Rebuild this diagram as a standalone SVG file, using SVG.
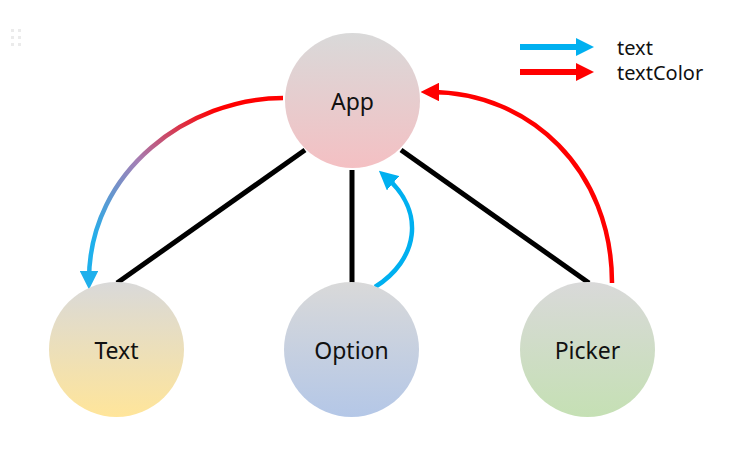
<svg xmlns="http://www.w3.org/2000/svg" width="740" height="451" viewBox="0 0 740 451">
<defs>
<linearGradient id="gApp" x1="0" y1="0" x2="0" y2="1"><stop offset="0" stop-color="#d9d9d9"/><stop offset="1" stop-color="#f4c0c3"/></linearGradient>
<linearGradient id="gText" x1="0" y1="0" x2="0" y2="1"><stop offset="0" stop-color="#d9d9d9"/><stop offset="1" stop-color="#ffe59a"/></linearGradient>
<linearGradient id="gOpt" x1="0" y1="0" x2="0" y2="1"><stop offset="0" stop-color="#d9d9d9"/><stop offset="1" stop-color="#b4c7e7"/></linearGradient>
<linearGradient id="gPick" x1="0" y1="0" x2="0" y2="1"><stop offset="0" stop-color="#d9d9d9"/><stop offset="1" stop-color="#c5e0b4"/></linearGradient>
<linearGradient id="gArc" gradientUnits="userSpaceOnUse" x1="205" y1="100" x2="92" y2="240"><stop offset="0" stop-color="#ff0000"/><stop offset="0.5" stop-color="#a47fb5"/><stop offset="1" stop-color="#1fb0ec"/></linearGradient>
<marker id="mBlue" viewBox="0 0 10 10" refX="5" refY="5" markerWidth="4.2" markerHeight="4.2" orient="auto" markerUnits="strokeWidth"><path d="M0,0 L10,5 L0,10 z" fill="#00b0f0"/></marker>
<marker id="mRed" viewBox="0 0 10 10" refX="5" refY="5" markerWidth="4.2" markerHeight="4.2" orient="auto" markerUnits="strokeWidth"><path d="M0,0 L10,5 L0,10 z" fill="#ff0000"/></marker>
<marker id="mArcBlue" viewBox="0 0 10 10" refX="5" refY="5" markerWidth="4.2" markerHeight="4.2" orient="auto" markerUnits="strokeWidth"><path d="M0,0 L10,5 L0,10 z" fill="#1fb0ec"/></marker>
</defs>
<style>
.lbl{font-family:"Noto Sans","Open Sans","Liberation Sans",sans-serif;font-size:23px;fill:#111;text-anchor:middle;dominant-baseline:central}
.leg{font-family:"Noto Sans","Open Sans","Liberation Sans",sans-serif;font-size:20px;fill:#111}
.edge{stroke:#000;stroke-width:5;fill:none}
.dot{fill:#ebebeb}
</style>
<g id="handle">
<rect class="dot" x="11" y="29" width="3" height="3"/><rect class="dot" x="18" y="29" width="3" height="3"/>
<rect class="dot" x="11" y="36" width="3" height="3"/><rect class="dot" x="18" y="36" width="3" height="3"/>
<rect class="dot" x="11" y="43" width="3" height="3"/><rect class="dot" x="18" y="43" width="3" height="3"/>
</g>
<g id="connectors">
<line class="edge" x1="305" y1="150" x2="117" y2="283"/>
<line class="edge" x1="352" y1="170" x2="352" y2="283"/>
<line class="edge" x1="401" y1="150" x2="589" y2="283"/>
<path d="M283,98 C190,98 89,170 89,280" fill="none" stroke="url(#gArc)" stroke-width="4.5" marker-end="url(#mArcBlue)"/>
<path d="M375,287 C418,260 426,212 386,177" fill="none" stroke="#00b0f0" stroke-width="4.5" marker-end="url(#mBlue)"/>
<path d="M612,283 C612,170 530,92 430,92" fill="none" stroke="#ff0000" stroke-width="4.5" marker-end="url(#mRed)"/>
</g>
<g id="App"><circle cx="352.5" cy="100.5" r="67.5" fill="url(#gApp)"/><text class="lbl" x="352.5" y="101">App</text></g>
<g id="Text"><circle cx="116.5" cy="349.5" r="67.5" fill="url(#gText)"/><text class="lbl" x="116.5" y="350">Text</text></g>
<g id="Option"><circle cx="351.5" cy="349.5" r="67.5" fill="url(#gOpt)"/><text class="lbl" x="351.5" y="350">Option</text></g>
<g id="Picker"><circle cx="587.5" cy="349.5" r="67.5" fill="url(#gPick)"/><text class="lbl" x="587.5" y="350">Picker</text></g>
<g id="legend">
<line x1="520" y1="47" x2="578" y2="47" stroke="#00b0f0" stroke-width="6"/>
<path d="M576,38 L594,47 L576,56 z" fill="#00b0f0"/>
<line x1="520" y1="72" x2="578" y2="72" stroke="#ff0000" stroke-width="6"/>
<path d="M576,63 L594,72 L576,81 z" fill="#ff0000"/>
<text class="leg" x="617" y="55">text</text>
<text class="leg" x="617" y="80">textColor</text>
</g>
</svg>
